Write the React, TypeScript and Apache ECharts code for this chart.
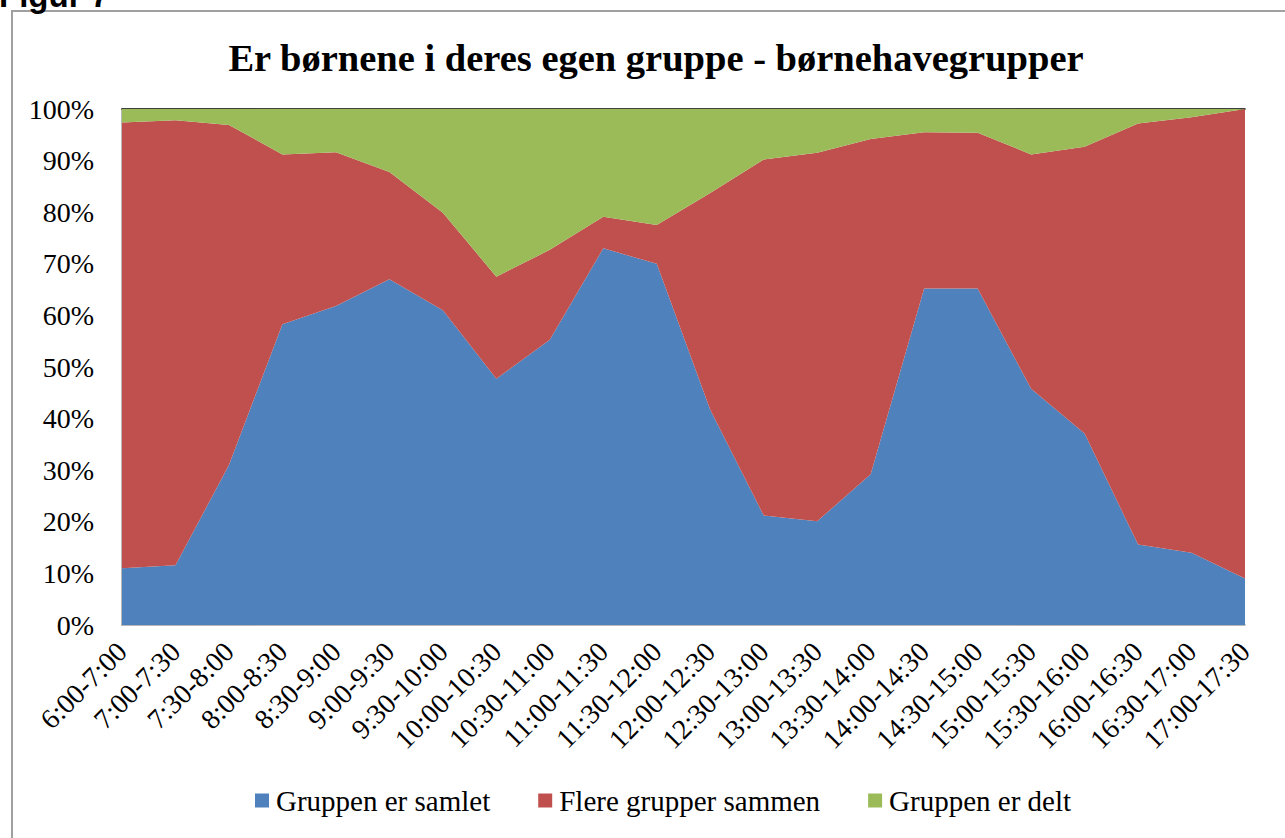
import React, { useEffect, useRef } from "react";
import * as echarts from "echarts";

const categories = [
  "6:00-7:00", "7:00-7:30", "7:30-8:00", "8:00-8:30", "8:30-9:00", "9:00-9:30",
  "9:30-10:00", "10:00-10:30", "10:30-11:00", "11:00-11:30", "11:30-12:00",
  "12:00-12:30", "12:30-13:00", "13:00-13:30", "13:30-14:00", "14:00-14:30",
  "14:30-15:00", "15:00-15:30", "15:30-16:00", "16:00-16:30", "16:30-17:00",
  "17:00-17:30",
];

const samlet = [11.0, 11.6, 31.0, 58.3, 61.8, 67.0, 61.0, 47.7, 55.3, 73.0, 70.0, 41.7, 21.2, 20.1, 29.2, 65.2, 65.2, 45.8, 37.1, 15.6, 14.0, 9.0];
const sammen = [86.4, 86.2, 65.9, 32.9, 29.8, 20.8, 18.9, 19.8, 17.4, 6.1, 7.5, 42.0, 69.0, 71.4, 65.0, 30.3, 30.2, 45.4, 55.6, 81.6, 84.4, 91.0];
const delt = [2.6, 2.2, 3.1, 8.8, 8.4, 12.2, 20.1, 32.5, 27.3, 20.9, 22.5, 16.3, 9.8, 8.5, 5.8, 4.5, 4.6, 8.8, 7.3, 2.8, 1.6, 0.0];

const seriesNames = ["Gruppen er samlet", "Flere grupper sammen", "Gruppen er delt"];
const colors = ["#4F81BD", "#C0504D", "#9BBB59"];
const title = "Er børnene i deres egen gruppe - børnehavegrupper";
const figLabel = "Figur 7";

const SERIF = '"Liberation Serif", "Times New Roman", serif';

export default function App() {
  const ref = useRef<HTMLDivElement>(null);
  useEffect(() => {
    if (!ref.current) return;
    const chart = echarts.init(ref.current, null, { renderer: "svg" });
    const data = [samlet, sammen, delt];
    chart.setOption({
      animation: false,
      backgroundColor: "#ffffff",
      color: colors,
      title: {
        text: title,
        left: 651,
        textAlign: "center",
        top: 33,
        textStyle: { fontFamily: SERIF, fontWeight: "bold", fontSize: 38.5, color: "#000" },
      },
      legend: {
        bottom: 18,
        left: 250,
        itemWidth: 14,
        itemHeight: 14,
        itemGap: 48,
        icon: "rect",
        textStyle: { fontFamily: SERIF, fontSize: 29, color: "#000", padding: [0, 0, 0, 2] },
        data: seriesNames,
      },
      grid: { left: 122, top: 109, right: 40, bottom: 213, containLabel: false },
      xAxis: [
        {
          type: "category",
          data: categories,
          boundaryGap: false,
          axisLine: { show: true, lineStyle: { color: "#a0a0a0", width: 1.5 } },
          axisTick: { show: false },
          axisLabel: {
            rotate: 45,
            interval: 0,
            margin: 22,
            fontFamily: SERIF,
            fontSize: 28,
            color: "#000",
          },
        },
        {
          type: "category",
          data: categories,
          position: "top",
          boundaryGap: false,
          axisLine: { show: true, lineStyle: { color: "#000", width: 1.5 } },
          axisTick: { show: false },
          axisLabel: { show: false },
        },
      ],
      yAxis: {
        type: "value",
        min: 0,
        max: 100,
        interval: 10,
        axisLine: { show: true, lineStyle: { color: "#a0a0a0", width: 1.5 } },
        axisTick: { show: false },
        splitLine: { show: false },
        axisLabel: {
          formatter: "{value}%",
          margin: 28,
          fontFamily: SERIF,
          fontSize: 28,
          color: "#000",
        },
      },
      series: seriesNames.map((name, i) => ({
        name,
        type: "line",
        stack: "total",
        data: data[i],
        showSymbol: false,
        symbol: "none",
        lineStyle: { width: 0 },
        areaStyle: { color: colors[i], opacity: 1 },
        itemStyle: { color: colors[i] },
      })),
      graphic: [
        {
          type: "rect",
          shape: { x: 12, y: 11, width: 1320, height: 900 },
          style: { fill: "none", stroke: "#a0a0a0", lineWidth: 2 },
          silent: true,
        },
        {
          type: "text",
          x: -1,
          y: 12,
          style: {
            text: figLabel,
            font: 'bold 33px "Liberation Sans", Arial, sans-serif',
            fill: "#000",
            verticalAlign: "bottom",
          },
          silent: true,
        },
      ],
    });
    return () => chart.dispose();
  }, []);
  return (
    <div
      ref={ref}
      style={{ position: "fixed", left: 0, top: 0, width: 1285, height: 838 }}
    />
  );
}
